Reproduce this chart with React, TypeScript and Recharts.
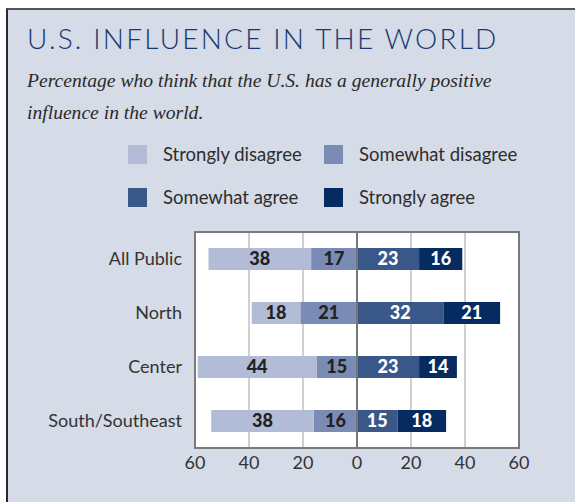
import React from 'react';
import { BarChart, Bar, XAxis, YAxis, CartesianGrid, ReferenceLine, ReferenceArea, LabelList } from 'recharts';

const categories = ['All Public', 'North', 'Center', 'South/Southeast'];
const stronglyDisagree = [38, 18, 44, 38];
const somewhatDisagree = [17, 21, 15, 16];
const somewhatAgree = [23, 32, 23, 15];
const stronglyAgree = [16, 21, 14, 18];
const xTicks = [-60, -40, -20, 0, 20, 40, 60];

const colors = {
    stronglyDisagree: '#b3bcd6',
    somewhatDisagree: '#7a8cb5',
    somewhatAgree: '#3a5789',
    stronglyAgree: '#052b61',
};

const legendItems = [
    { label: 'Strongly disagree', color: colors.stronglyDisagree, x: 128, y: 145 },
    { label: 'Somewhat disagree', color: colors.somewhatDisagree, x: 324, y: 145 },
    { label: 'Somewhat agree', color: colors.somewhatAgree, x: 128, y: 188 },
    { label: 'Strongly agree', color: colors.stronglyAgree, x: 324, y: 188 },
];

// disagree values go left of zero
const rows = categories.map((name, i) => ({
    name,
    somewhatDisagree: -somewhatDisagree[i],
    stronglyDisagree: -stronglyDisagree[i],
    somewhatAgree: somewhatAgree[i],
    stronglyAgree: stronglyAgree[i],
}));

const sans = 'Lato, "Noto Sans", sans-serif';
const abs = (v: any) => Math.abs(Number(v));
const labelStyle = { fontFamily: sans, fontWeight: 900, fontSize: 18 };

export default function App() {
    return (
        <div style={{ position: 'absolute', left: 0, top: 0, width: 575, height: 502, background: '#fff', overflow: 'hidden' }}>
            <div style={{
                position: 'absolute', left: 6, top: 8, width: 569, height: 494,
                background: '#d5dbe7', borderTop: '2px solid #555', borderLeft: '2px solid #2a2a2a', boxSizing: 'border-box',
            }} />
            <div style={{
                position: 'absolute', left: 27, top: 21, fontFamily: sans, fontSize: 28, fontWeight: 300,
                letterSpacing: 2.2, color: '#163a6e', whiteSpace: 'nowrap', lineHeight: '34px',
            }}>
                U.S. INFLUENCE IN THE WORLD
            </div>
            <div style={{
                position: 'absolute', left: 27, top: 65, fontFamily: '"Liberation Serif", serif', fontStyle: 'italic',
                fontSize: 19.6, color: '#2a2a2a', lineHeight: '32px', whiteSpace: 'nowrap',
            }}>
                Percentage who think that the U.S. has a generally positive<br />influence in the world.
            </div>
            {legendItems.map((item) => (
                <div key={item.label}>
                    <div style={{ position: 'absolute', left: item.x, top: item.y, width: 19, height: 19, background: item.color }} />
                    <div style={{
                        position: 'absolute', left: item.x + 35, top: item.y - 3, fontFamily: sans, fontSize: 18.5,
                        color: '#2e2e2e', lineHeight: '24px', whiteSpace: 'nowrap',
                    }}>{item.label}</div>
                </div>
            ))}
            <div style={{ position: 'absolute', left: 0, top: 0 }}>
                <BarChart
                    width={575}
                    height={502}
                    data={rows}
                    layout="vertical"
                    stackOffset="sign"
                    barSize={22}
                    margin={{ top: 232, right: 56, bottom: 24, left: 0 }}
                >
                    <CartesianGrid horizontal={false} stroke="#d0d0d0" strokeWidth={2} fill="#ffffff" verticalValues={xTicks} />
                    <XAxis
                        type="number"
                        domain={[-60, 60]}
                        ticks={xTicks}
                        tickFormatter={abs}
                        axisLine={false}
                        tickLine={false}
                        tickSize={0}
                        tickMargin={8}
                        height={30}
                        tick={{ fontFamily: sans, fontSize: 18, fill: '#333' }}
                    />
                    <YAxis
                        type="category"
                        dataKey="name"
                        width={195}
                        axisLine={false}
                        tickLine={false}
                        tickSize={0}
                        tickMargin={13}
                        tick={{ fontFamily: sans, fontSize: 18, fill: '#333' }}
                    />
                    <Bar dataKey="somewhatDisagree" stackId="a" fill={colors.somewhatDisagree} isAnimationActive={false}>
                        <LabelList dataKey="somewhatDisagree" position="center" formatter={abs} fill="#222" style={labelStyle} />
                    </Bar>
                    <Bar dataKey="stronglyDisagree" stackId="a" fill={colors.stronglyDisagree} isAnimationActive={false}>
                        <LabelList dataKey="stronglyDisagree" position="center" formatter={abs} fill="#222" style={labelStyle} />
                    </Bar>
                    <Bar dataKey="somewhatAgree" stackId="a" fill={colors.somewhatAgree} isAnimationActive={false}>
                        <LabelList dataKey="somewhatAgree" position="center" formatter={abs} fill="#fff" style={labelStyle} />
                    </Bar>
                    <Bar dataKey="stronglyAgree" stackId="a" fill={colors.stronglyAgree} isAnimationActive={false}>
                        <LabelList dataKey="stronglyAgree" position="center" formatter={abs} fill="#fff" style={labelStyle} />
                    </Bar>
                    <ReferenceLine x={0} stroke="#777" strokeWidth={2} />
                    <ReferenceArea x1={-60} x2={60} fill="none" stroke="#7a7a7a" strokeWidth={2} ifOverflow="visible" />
                </BarChart>
            </div>
        </div>
    );
}
